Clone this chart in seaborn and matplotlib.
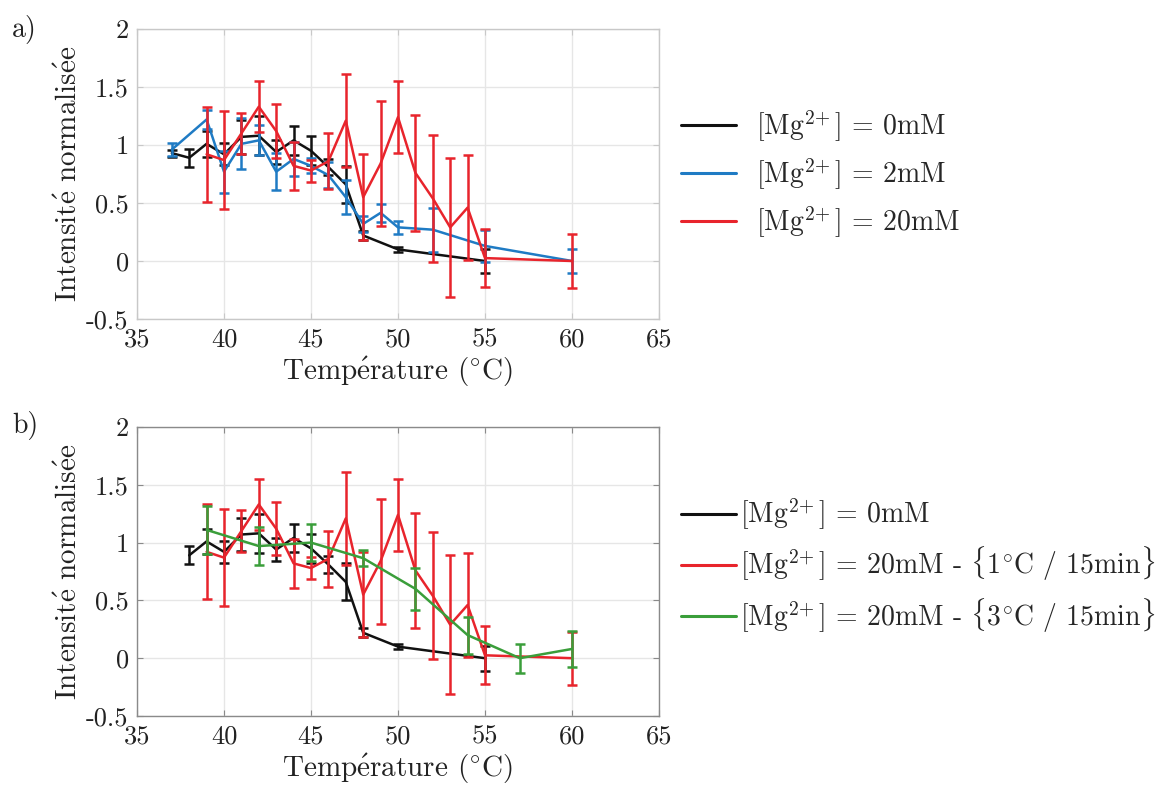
import numpy as np
import pandas as pd
import matplotlib
matplotlib.use("Agg")
import matplotlib.pyplot as plt
import seaborn as sns
from matplotlib.lines import Line2D

# ---------------- data ----------------
# [Mg2+] = 0 mM (panel a)
t0_a = [37, 38, 39, 40, 41, 42, 43, 44, 45, 46, 47, 48, 50, 55]
i0_a = [0.93, 0.89, 1.01, 0.92, 1.07, 1.08, 0.94, 1.04, 0.95, 0.81, 0.66, 0.22, 0.10, 0.0]
e0_a = [0.03, 0.077, 0.11, 0.094, 0.144, 0.17, 0.10, 0.125, 0.125, 0.072, 0.16, 0.04, 0.02, 0.107]

# [Mg2+] = 0 mM (panel b)
t0_b = [38, 39, 40, 41, 42, 43, 44, 45, 46, 47, 48, 50, 55]
i0_b = [0.89, 1.01, 0.92, 1.07, 1.08, 0.94, 1.04, 0.95, 0.81, 0.66, 0.22, 0.10, 0.0]
e0_b = [0.077, 0.11, 0.094, 0.144, 0.17, 0.10, 0.125, 0.125, 0.072, 0.16, 0.04, 0.02, 0.107]

# [Mg2+] = 2 mM
t2 = [37, 39, 40, 41, 42, 43, 44, 45, 46, 47, 48, 49, 50, 52, 55, 60]
i2 = [0.96, 1.22, 0.77, 1.01, 1.04, 0.77, 0.88, 0.82, 0.74, 0.55, 0.32, 0.415, 0.29, 0.27, 0.13, 0.0]
e2 = [0.055, 0.085, 0.18, 0.22, 0.13, 0.16, 0.145, 0.065, 0.11, 0.145, 0.072, 0.075, 0.058, 0.19, 0.14, 0.107]

# [Mg2+] = 20 mM - {1°C / 15min}
t20 = [39, 40, 41, 42, 43, 44, 45, 46, 47, 48, 49, 50, 51, 52, 53, 54, 55, 60]
i20 = [0.92, 0.87, 1.10, 1.33, 1.12, 0.82, 0.78, 0.86, 1.21, 0.55, 0.84, 1.24, 0.76, 0.54, 0.29, 0.46, 0.025, 0.0]
e20 = [0.41, 0.42, 0.18, 0.22, 0.23, 0.21, 0.095, 0.24, 0.40, 0.37, 0.54, 0.31, 0.50, 0.55, 0.60, 0.45, 0.25, 0.23]

# [Mg2+] = 20 mM - {3°C / 15min}
t20s = [39, 42, 45, 48, 51, 54, 57, 60]
i20s = [1.11, 0.97, 1.00, 0.865, 0.60, 0.20, 0.0, 0.08]
e20s = [0.21, 0.165, 0.16, 0.07, 0.18, 0.16, 0.125, 0.155]

xticks = [35, 40, 45, 50, 55, 60, 65]
yticks = [-0.5, 0, 0.5, 1, 1.5, 2]
yticklabels = ["-0.5", "0", "0.5", "1", "1.5", "2"]

mg = r"[Mg$^{2\!+}$]"
lab0 = mg + " = 0mM"
lab2 = mg + " = 2mM"
lab20 = mg + " = 20mM"
lab20a = mg + r" = 20mM - $\{$1$^{\circ}$C / 15min$\}$"
lab20b = mg + r" = 20mM - $\{$3$^{\circ}$C / 15min$\}$"

c_black = "#111111"
c_blue = "#1f7bc4"
c_red = "#e8242c"
c_green = "#3a9e3a"

# ---------------- style ----------------
sns.set_style("whitegrid")
plt.rcParams["font.family"] = ["cmr10", "DejaVu Serif"]
plt.rcParams["mathtext.fontset"] = "cm"
plt.rcParams["axes.unicode_minus"] = False
plt.rcParams["axes.formatter.use_mathtext"] = False

fig = plt.figure(figsize=(11.73, 7.85), dpi=100)
W, H = 1173, 785


def axes_px(l, t, r, b):
    return fig.add_axes([l / W, 1 - b / H, (r - l) / W, (b - t) / H])


ax_a = axes_px(137, 29, 659, 319)
ax_b = axes_px(137, 427, 659, 716)


def draw_series(ax, t, v, e, color, label):
    df = pd.DataFrame({"T": t, "I": v})
    sns.lineplot(data=df, x="T", y="I", ax=ax, color=color, lw=1.8,
                 label=label, legend=False, zorder=3)
    ax.errorbar(t, v, yerr=e, fmt="none", ecolor=color, elinewidth=1.8,
                capsize=3.8, capthick=1.8, zorder=3)


def style_axes(ax, spine_col):
    ax.set_xlim(35, 65)
    ax.set_ylim(-0.5, 2)
    ax.set_xticks(xticks)
    ax.set_yticks(yticks)
    ax.set_xticklabels([str(x) for x in xticks])
    ax.set_yticklabels(yticklabels)
    ax.grid(True, color="#e6e6e6", lw=1.0)
    ax.set_facecolor("white")
    for s in ax.spines.values():
        s.set_visible(True)
        s.set_color(spine_col)
        s.set_linewidth(1.0)
    ax.tick_params(axis="both", which="both", direction="in", length=4,
                   color=spine_col, labelsize=19, labelcolor="#222222",
                   top=True, right=True, bottom=True, left=True, pad=6)
    ax.set_xlabel(r"Temp$\acute{\mathrm{e}}$rature ($^{\circ}$C)", fontsize=21,
                  color="#222222", labelpad=3)
    ax.set_ylabel(r"Intensit$\acute{\mathrm{e}}$ normalis$\acute{\mathrm{e}}$e", fontsize=21,
                  color="#222222", labelpad=2)


# panel a
draw_series(ax_a, t0_a, i0_a, e0_a, c_black, lab0)
draw_series(ax_a, t2, i2, e2, c_blue, lab2)
draw_series(ax_a, t20, i20, e20, c_red, lab20)
style_axes(ax_a, "#c8c8c8")
h_a = [Line2D([], [], color=c, lw=2.2) for c in (c_black, c_blue, c_red)]
ax_a.legend(h_a, [lab0, lab2, lab20], loc="center left",
            bbox_to_anchor=(1.0, 0.50), frameon=False, fontsize=20,
            handlelength=2.0, handletextpad=0.7, labelspacing=0.45,
            borderaxespad=0.38)

# panel b
draw_series(ax_b, t0_b, i0_b, e0_b, c_black, lab0)
draw_series(ax_b, t20, i20, e20, c_red, lab20a)
draw_series(ax_b, t20s, i20s, e20s, c_green, lab20b)
style_axes(ax_b, "#8a8a8a")
h_b = [Line2D([], [], color=c, lw=2.2) for c in (c_black, c_red, c_green)]
ax_b.legend(h_b, [lab0, lab20a, lab20b], loc="center left",
            bbox_to_anchor=(1.0, 0.52), frameon=False, fontsize=20,
            handlelength=2.0, handletextpad=0.15, labelspacing=0.45,
            borderaxespad=0.38)

fig.text(12 / W, 1 - 30 / H, "a)", fontsize=20, va="center", ha="left", color="#222222")
fig.text(12 / W, 1 - 425 / H, "b)", fontsize=20, va="center", ha="left", color="#222222")

fig.savefig("out.png", dpi=100, facecolor="white")
